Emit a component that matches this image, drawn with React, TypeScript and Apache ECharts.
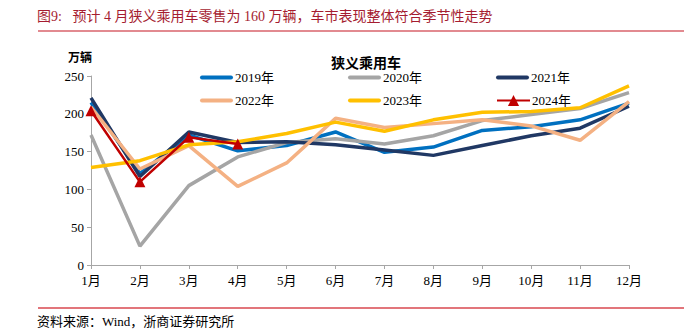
import React, { useEffect, useRef } from "react";
import * as echarts from "echarts";

const months = ["1月", "2月", "3月", "4月", "5月", "6月", "7月", "8月", "9月", "10月", "11月", "12月"];
const s2019 = [215, 121, 172, 151, 158, 176, 149, 156, 178, 183, 192, 214];
const s2020 = [172, 25, 105, 143, 162, 167, 160, 171, 191, 199, 207, 228];
const s2021 = [221, 117, 176, 162, 163, 159, 152, 145, 158, 171, 181, 210];
const s2022 = [209, 127, 158, 104, 135, 194, 182, 187, 192, 184, 165, 216];
const s2023 = [129, 138, 159, 163, 174, 189, 177, 192, 202, 203, 208, 237];
const s2024 = [204, 110, 169, 160];
const yTicks = [0, 50, 100, 150, 200, 250];

const serif = "'Liberation Serif', 'Noto Sans CJK SC', serif";
const barIcon = "path://M2,0 L31,0 A2,2 0 0 1 31,4 L2,4 A2,2 0 0 1 2,0 Z";

export default function App() {
  const ref = useRef<HTMLDivElement>(null);
  useEffect(() => {
    document.body.style.margin = "0";
    const chart = echarts.init(ref.current!, null, { renderer: "svg" });
    const mk = (name: string, data: number[], color: string, z: number) => ({
      name,
      type: "line",
      data,
      symbol: "none",
      z,
      lineStyle: { color, width: 3.5 },
      itemStyle: { color },
    });
    const legendCommon = {
      left: 195,
      itemWidth: 33,
      itemHeight: 14,
      itemGap: 74,
      textStyle: { fontSize: 13, color: "#000", fontFamily: serif, padding: [0, 0, 0, -3] },
    };
    chart.setOption({
      animation: false,
      textStyle: { fontFamily: serif },
      title: [
        {
          text: "狭义乘用车",
          left: 361,
          top: 51,
          textAlign: "center",
          textStyle: { fontSize: 14, fontWeight: "bold", color: "#000", fontFamily: serif },
        },
      ],
      graphic: [
        {
          type: "text",
          left: 37,
          top: 9,
          style: {
            text: "图9:   预计 4 月狭义乘用车零售为 160 万辆，车市表现整体符合季节性走势",
            fill: "#A51C30",
            font: "14px 'Liberation Serif', 'Noto Sans CJK SC'",
          },
        },
        {
          type: "line",
          shape: { x1: 38, y1: 31, x2: 684, y2: 31 },
          style: { stroke: "#E28A90", lineWidth: 2 },
        },
        {
          type: "line",
          shape: { x1: 38, y1: 308, x2: 684, y2: 308 },
          style: { stroke: "#D9474F", lineWidth: 1.5 },
        },
        {
          type: "text",
          left: 37,
          top: 315,
          style: {
            text: "资料来源：Wind，浙商证券研究所",
            fill: "#000",
            font: "13px 'Liberation Serif', 'Noto Sans CJK SC'",
          },
        },
        {
          type: "text",
          left: 68,
          top: 50,
          style: {
            text: "万辆",
            fill: "#000",
            font: "bold 12px 'Noto Sans CJK SC'",
          },
        },
      ],
      legend: [
        {
          ...legendCommon,
          top: 66,
          data: [
            { name: "2019年", icon: barIcon },
            { name: "2020年", icon: barIcon },
            { name: "2021年", icon: barIcon },
          ],
        },
        {
          ...legendCommon,
          top: 89,
          data: [
            { name: "2022年", icon: barIcon },
            { name: "2023年", icon: barIcon },
            { name: "2024年" },
          ],
        },
      ],
      grid: { left: 91, right: 60, top: 76, bottom: 71, containLabel: false },
      xAxis: {
        type: "category",
        data: months,
        boundaryGap: false,
        axisLine: { lineStyle: { color: "#A6A6A6", width: 1 } },
        axisTick: { show: true, length: 4, lineStyle: { color: "#A6A6A6" } },
        axisLabel: { color: "#000", fontSize: 13, margin: 9, fontFamily: serif },
        splitLine: { show: false },
      },
      yAxis: {
        type: "value",
        min: yTicks[0],
        max: yTicks[yTicks.length - 1],
        interval: 50,
        axisLine: { show: true, lineStyle: { color: "#A6A6A6", width: 1 } },
        axisTick: { show: true, length: 4, lineStyle: { color: "#A6A6A6" } },
        axisLabel: { color: "#000", fontSize: 13, margin: 7, fontFamily: serif },
        splitLine: { show: false },
      },
      series: [
        mk("2019年", s2019, "#0070C0", 2),
        mk("2020年", s2020, "#A5A5A5", 2),
        mk("2021年", s2021, "#203864", 2),
        mk("2022年", s2022, "#F4B183", 2),
        mk("2023年", s2023, "#FFC000", 2),
        {
          name: "2024年",
          type: "line",
          data: s2024,
          symbol: "triangle",
          symbolSize: 11,
          z: 3,
          lineStyle: { color: "#C00000", width: 2.5 },
          itemStyle: { color: "#C00000" },
        },
      ],
    });
    return () => chart.dispose();
  }, []);
  return <div ref={ref} style={{ width: 689, height: 336 }} />;
}
